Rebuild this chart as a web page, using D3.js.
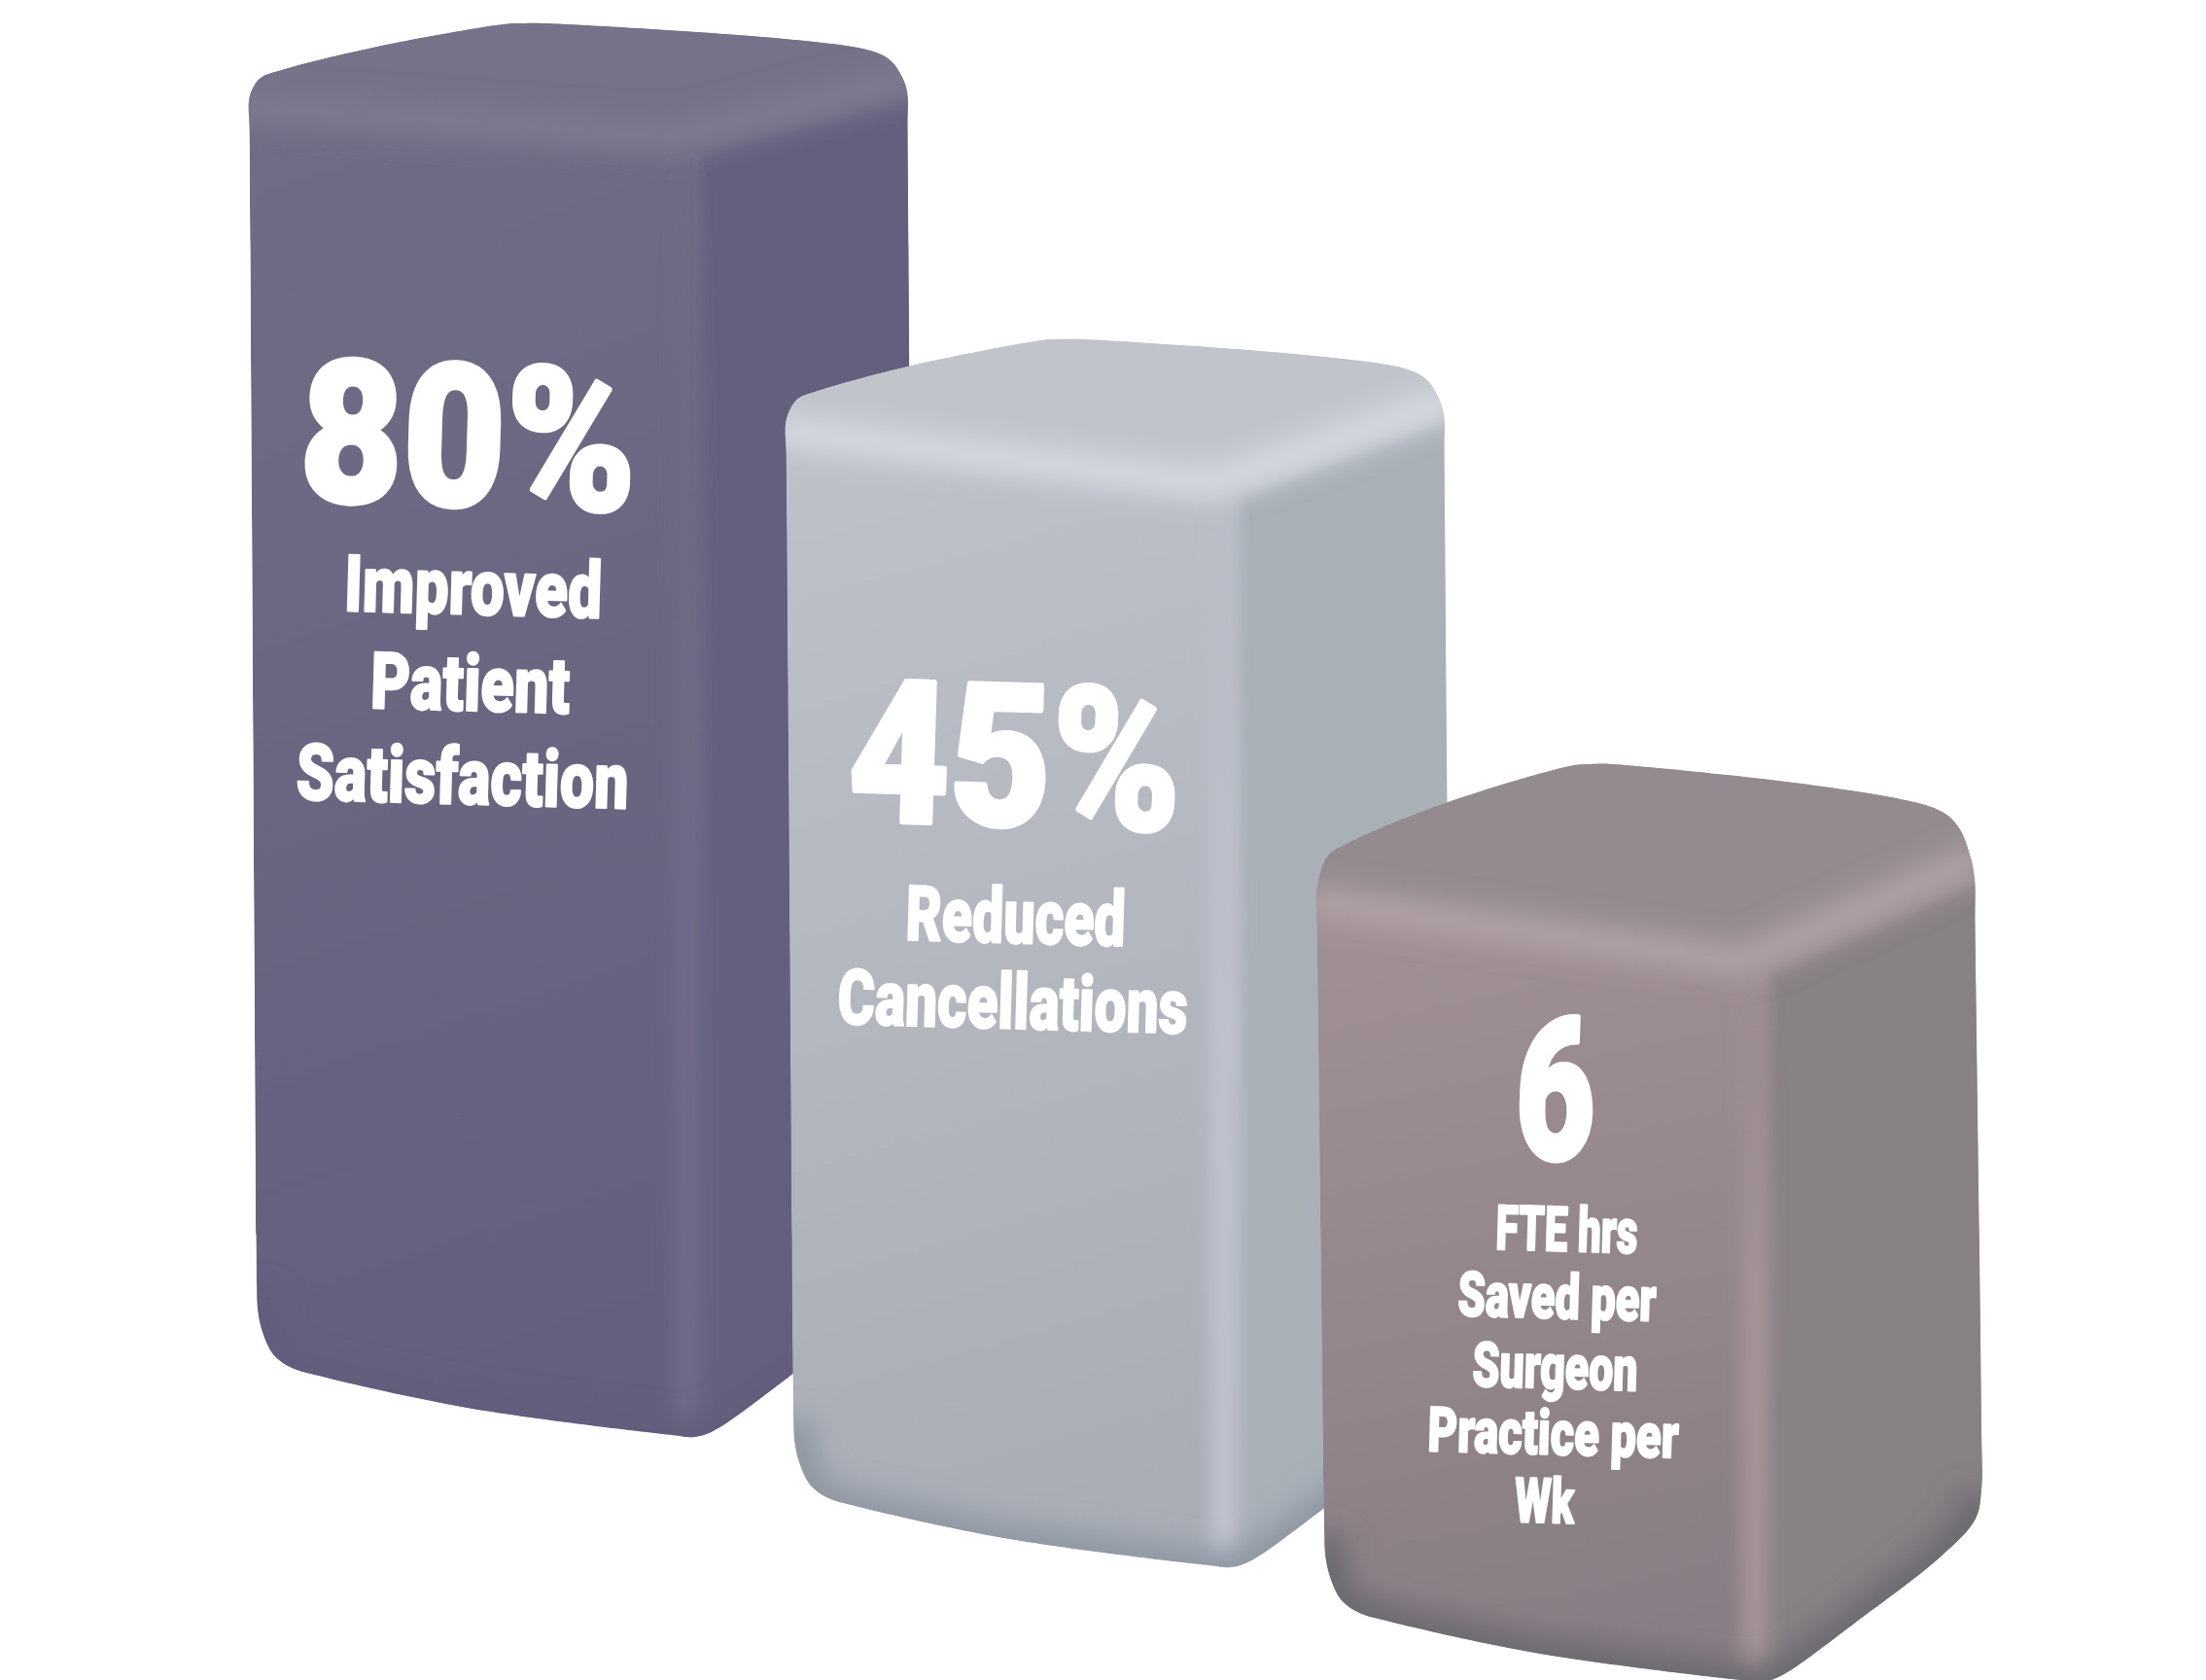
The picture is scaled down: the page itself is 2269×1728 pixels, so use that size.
<!DOCTYPE html>
<html>
<head>
<meta charset="utf-8">
<style>
html, body { margin: 0; padding: 0; background: #fff; }
svg { display: block; }
text { font-family: Roboto, sans-serif; font-weight: 900; fill: #fff; stroke: #fff; stroke-linejoin: round; text-anchor: middle; }
</style>
</head>
<body>
<script src="https://cdnjs.cloudflare.com/ajax/libs/d3/7.8.5/d3.min.js"></script>
<script>
// data
var categories = ["Improved Patient Satisfaction", "Reduced Cancellations", "FTE hrs Saved per Surgeon Practice per Wk"];
var values = [80, 45, 6];
var valueLabels = ["80%", "45%", "6"];
var captionLines = [
  ["Improved", "Patient", "Satisfaction"],
  ["Reduced", "Cancellations"],
  ["FTE hrs", "Saved per", "Surgeon", "Practice per", "Wk"]
];

// colours, one entry per block
var topColors = ["#757289", "#c0c4cb", "#938b90"];
var frontTopColors = ["#706e86", "#bfc3cc", "#a59498"];
var frontBottomColors = ["#635f7e", "#a9adb6", "#887d84"];
var sideColors = ["#64607f", "#a9b0b8", "#878085"];
var ridgeColors = ["#7f7c91", "#d8dae0", "#b3a3a5"];
var stripColors = ["#716d89", "#c2c6d1", "#a8979b"];
var footColors = ["#625d7c", "#8f98a3", "#6c6b70"];

// label placement, relative to each block's top left corner
var valueDx = [224, 234, 244];
var valueDy = [416, 412, 272];
var valueWidths = [346, 342, 82];
var captionDx = [[230, 227, 219], [236, 233], [257, 247, 245, 243, 234]];
var captionDy = [[528, 627, 723], [533, 621], [367, 436, 508, 576, 646]];
var captionWidths = [[265, 205, 342], [226, 360], [146, 204, 170, 258, 61]];
var captionSizes = [81, 79, 64];
var valueSize = 204;

// outline templates: fractions of the block width and cap / foot depth
var capTemplate = [[0, 0], [.005, .15], [.018, .30], [.05, .40], [.195, .70], [.39, .99], [.415, 1], [.45, 1], [.94, .66], [.975, .52], [.993, .30], [1, .12]];
var footTemplate = [[1, -.385], [.991, -.175], [.94, .09], [.806, .58], [.694, .958], [.665, 1], [.63, .985], [.32, .79], [.09, .555], [.052, .50], [.026, .41], [.01, .26], [.002, .1], [0, -.1]];

var width = 2269, height = 1728;
var blockWidth = 677, footWidth = 676, footDepth = 143, drift = 8;

var xLeft = d3.scaleOrdinal().domain(categories).range([256, 808, 1354]);
var topY = d3.scaleLinear().domain([6, 45, 80]).range([920, 437, 104]);
var baseY = d3.scaleLinear().domain([6, 45, 80]).range([1587, 1469, 1335]);
var capDepth = d3.scaleLinear().domain([6, 45, 80]).range([134, 88, 80]);
var edgeDrop = d3.scaleLinear().domain([6, 45, 80]).range([75, 67, 44]);

var svg = d3.select("body").append("svg").attr("width", width).attr("height", height);
var defs = svg.append("defs");

function addBlur(id, dev) {
  defs.append("filter").attr("id", id)
    .attr("filterUnits", "userSpaceOnUse")
    .attr("x", 0).attr("y", 0).attr("width", width).attr("height", height)
    .append("feGaussianBlur").attr("stdDeviation", dev);
}
addBlur("soft6", 6);
addBlur("soft10", 10);
addBlur("soft14", 14);

var outline = d3.line().curve(d3.curveCatmullRomClosed.alpha(0.5));
var straight = d3.line();

categories.forEach(function(cat, i) {
  var v = values[i];
  var L = xLeft(cat), T = topY(v), B = baseY(v), D = capDepth(v), F = edgeDrop(v);
  var ridgeX = L + 0.69 * blockWidth;

  var pts = capTemplate.map(function(p) { return [L + p[0] * blockWidth, T - p[1] * D]; });
  pts.push([L + blockWidth + 0.5, T + 30]);
  pts.push([L + drift + footWidth, B - 120]);
  footTemplate.forEach(function(p) { pts.push([L + drift + p[0] * footWidth, B + p[1] * footDepth]); });
  pts.push([L + drift - 0.5, B - 50]);
  pts.push([L + 0.5, T + 30]);

  var outlinePath = outline(pts);

  defs.append("clipPath").attr("id", "clip" + i).append("path").attr("d", outlinePath);
  var grad = defs.append("linearGradient").attr("id", "front" + i)
    .attr("x1", 0).attr("y1", 0).attr("x2", 0.15).attr("y2", 1);
  grad.append("stop").attr("offset", 0).attr("stop-color", frontTopColors[i]);
  grad.append("stop").attr("offset", 1).attr("stop-color", frontBottomColors[i]);

  var stripGrad = defs.append("linearGradient").attr("id", "strip" + i)
    .attr("gradientUnits", "userSpaceOnUse")
    .attr("x1", 0).attr("y1", T + F).attr("x2", 0).attr("y2", (T + B) / 2 + 100);
  stripGrad.append("stop").attr("offset", 0).attr("stop-color", stripColors[i]).attr("stop-opacity", 0);
  stripGrad.append("stop").attr("offset", 1).attr("stop-color", stripColors[i]).attr("stop-opacity", 1);

  var g = svg.append("g").attr("class", "block");
  var body = g.append("g").attr("clip-path", "url(#clip" + i + ")");

  // front face
  body.append("path").attr("d", outlinePath).attr("fill", "url(#front" + i + ")");

  // right face
  body.append("path")
    .attr("d", straight([[ridgeX, T + F + 6], [L + blockWidth + 30, T - 0.2 * D], [L + blockWidth + 30, B + 200], [ridgeX, B + 200]]) + "Z")
    .attr("fill", sideColors[i])
    .attr("filter", "url(#soft6)");

  // top face
  body.append("path")
    .attr("d", straight([[L - 30, T + 6], [ridgeX, T + F], [L + blockWidth + 30, T - 0.22 * D], [L + blockWidth + 30, T - D - 30], [L - 30, T - D - 30]]) + "Z")
    .attr("fill", topColors[i])
    .attr("filter", "url(#soft14)");

  // soft ridge where the faces meet
  body.append("path")
    .attr("d", straight([[L - 10, T + 6], [ridgeX - 30, T + F - 6], [L + blockWidth + 10, T - 0.3 * D]]))
    .attr("fill", "none").attr("stroke", ridgeColors[i]).attr("stroke-width", 30)
    .attr("stroke-linejoin", "round")
    .attr("filter", "url(#soft14)");

  // lighter strip along the front corner
  body.append("path")
    .attr("d", "M" + (ridgeX - 16) + "," + (T + F) + "L" + (ridgeX - 16.01) + "," + (B + 200))
    .attr("fill", "none").attr("stroke", "url(#strip" + i + ")").attr("stroke-width", 24)
    .attr("filter", "url(#soft10)");

  // darker foot along the bottom edge
  var foot = footTemplate.map(function(p) { return [L + drift + p[0] * footWidth, B + p[1] * footDepth + 6]; });
  body.append("path")
    .attr("d", straight(foot))
    .attr("fill", "none").attr("stroke", footColors[i]).attr("stroke-width", 44)
    .attr("filter", "url(#soft14)");

  // labels
  g.append("text")
    .attr("transform", "translate(" + (L + valueDx[i]) + "," + (T + valueDy[i]) + ") rotate(1.8)")
    .attr("font-size", valueSize)
    .attr("stroke-width", 5)
    .attr("textLength", valueWidths[i])
    .attr("lengthAdjust", "spacingAndGlyphs")
    .text(valueLabels[i]);

  captionLines[i].forEach(function(line, j) {
    g.append("text")
      .attr("transform", "translate(" + (L + captionDx[i][j]) + "," + (T + captionDy[i][j]) + ") rotate(1.6)")
      .attr("font-size", captionSizes[i])
      .attr("stroke-width", 2)
      .attr("textLength", captionWidths[i][j])
      .attr("lengthAdjust", "spacingAndGlyphs")
      .text(line);
  });
});
</script>
</body>
</html>
